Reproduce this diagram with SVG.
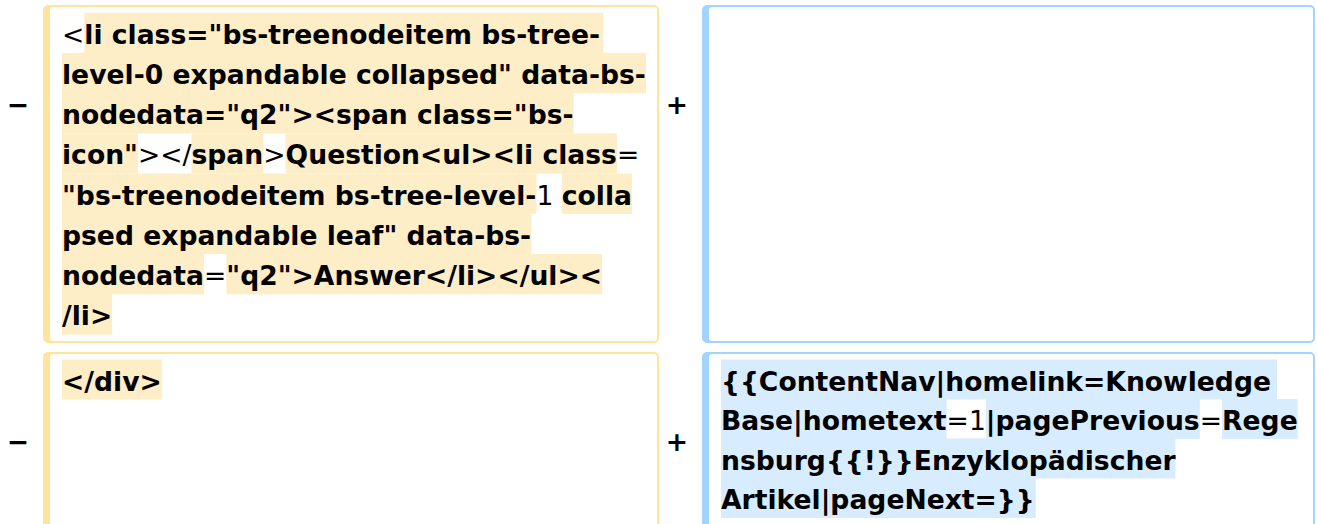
<svg xmlns="http://www.w3.org/2000/svg" width="1317" height="524" viewBox="0 0 1317 524">
<style>
.b{font-family:"DejaVu Sans",sans-serif;font-weight:bold;font-size:26.6px;fill:#000}
.n{font-family:"DejaVu Sans",sans-serif;font-weight:normal;font-size:26.6px;fill:#000}
.mk{font-family:"DejaVu Sans",sans-serif;font-weight:bold;font-size:26.6px;fill:#000;text-anchor:middle}
.hd{fill:#feeec8}
.ha{fill:#d8ecff}
.od{fill:#ffe49c}
.oa{fill:#a3d3ff}
.in{fill:#ffffff}
</style>
<rect width="1317" height="524" fill="#ffffff"/>

<g id="markers">
<text class="mk" x="18" y="114">−</text>
<text class="mk" x="677" y="114">+</text>
<text class="mk" x="18" y="451">−</text>
<text class="mk" x="677" y="451">+</text>
</g>

<g id="del-1">
<rect class="od" x="43" y="5" width="616" height="338" rx="5"/>
<rect class="in" x="50" y="7" width="607" height="334" rx="3"/>
<rect class="hd" x="84.3" y="12.7" width="519" height="40.4"/>
<rect class="hd" x="62" y="52.9" width="584" height="40.4"/>
<rect class="hd" x="62" y="93.1" width="511.7" height="40.4"/>
<rect class="hd" x="62" y="133.3" width="76" height="40.4"/>
<rect class="hd" x="191.5" y="133.3" width="71.8" height="40.4"/>
<rect class="hd" x="285.6" y="133.3" width="331.4" height="40.4"/>
<rect class="hd" x="62" y="173.5" width="474.4" height="40.4"/>
<rect class="hd" x="561.8" y="173.5" width="70.3" height="40.4"/>
<rect class="hd" x="62" y="213.7" width="469.4" height="40.4"/>
<rect class="hd" x="62" y="253.9" width="142" height="40.4"/>
<rect class="hd" x="226.3" y="253.9" width="375.8" height="40.4"/>
<rect class="hd" x="62" y="294.1" width="50.2" height="40.6"/>
<text class="n" x="62" y="43.8">&lt;</text>
<text class="b" x="84.3" y="43.8">li class="bs-treenodeitem bs-tree-</text>
<text class="b" x="62" y="84">level-0 expandable collapsed" data-bs-</text>
<text class="b" x="62" y="124.2">nodedata="q2"&gt;&lt;span class="bs-</text>
<text class="b" x="62" y="164.4">icon"</text>
<text class="n" x="138" y="164.4">&gt;&lt;/</text>
<text class="b" x="191.5" y="164.4">span</text>
<text class="n" x="263.3" y="164.4">&gt;</text>
<text class="b" x="285.6" y="164.4">Question&lt;ul&gt;&lt;li class</text>
<text class="n" x="617" y="164.4">=</text>
<text class="b" x="62" y="204.6">"bs-treenodeitem bs-tree-level-</text>
<text class="n" x="536.4" y="204.6">1</text>
<text class="b" x="561.8" y="204.6">colla</text>
<text class="b" x="62" y="244.8">psed expandable leaf" data-bs-</text>
<text class="b" x="62" y="285">nodedata</text>
<text class="n" x="204" y="285">=</text>
<text class="b" x="226.3" y="285">"q2"&gt;Answer&lt;/li&gt;&lt;/ul&gt;&lt;</text>
<text class="b" x="62" y="325.2">/li&gt;</text>
</g>

<g id="add-1">
<rect class="oa" x="702" y="5" width="613" height="338" rx="5"/>
<rect class="in" x="709" y="7" width="604" height="334" rx="3"/>
</g>

<g id="del-2">
<rect class="od" x="43" y="352" width="616" height="200" rx="5"/>
<rect class="in" x="50" y="354" width="607" height="196" rx="3"/>
<rect class="hd" x="62" y="359.5" width="99.8" height="40"/>
<text class="b" x="62" y="390.5">&lt;/div&gt;</text>
</g>

<g id="add-2">
<rect class="oa" x="702" y="352" width="613" height="200" rx="5"/>
<rect class="in" x="709" y="354" width="604" height="196" rx="3"/>
<rect class="ha" x="721" y="359.5" width="556" height="40"/>
<rect class="ha" x="721" y="399" width="225.6" height="40"/>
<rect class="ha" x="985.8" y="399" width="214" height="40"/>
<rect class="ha" x="1222.1" y="399" width="75.6" height="40"/>
<rect class="ha" x="721" y="438.5" width="454.4" height="40"/>
<rect class="ha" x="721" y="478" width="314.7" height="40"/>
<text class="b" x="721" y="390.5">{{ContentNav|homelink=Knowledge</text>
<text class="b" x="721" y="430">Base|hometext</text>
<text class="n" x="946.6" y="430">=1</text>
<text class="b" x="985.8" y="430">|pagePrevious</text>
<text class="n" x="1199.8" y="430">=</text>
<text class="b" x="1222.1" y="430">Rege</text>
<text class="b" x="721" y="469.5">nsburg{{!}}Enzyklopädischer</text>
<text class="b" x="721" y="509">Artikel|pageNext=}}</text>
</g>
</svg>
